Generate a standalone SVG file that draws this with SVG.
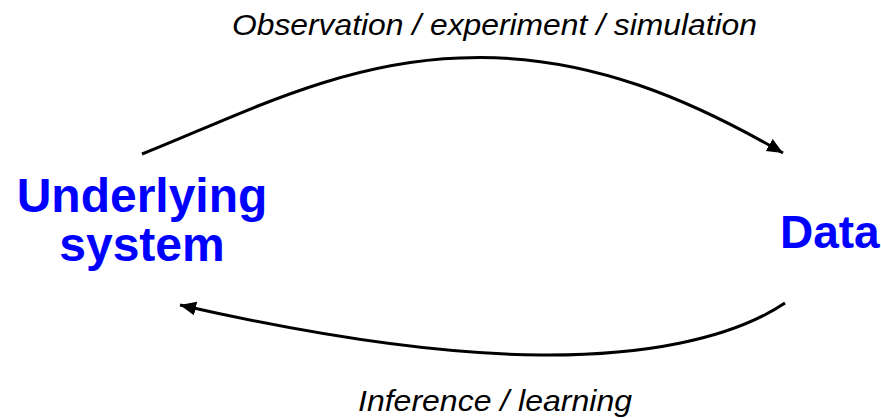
<svg xmlns="http://www.w3.org/2000/svg" width="881" height="418" viewBox="0 0 881 418">
  <style>
    .node { font-family: "Liberation Sans", Arial, sans-serif; font-weight: bold; fill: #0000FF; }
    .lbl { font-family: "Liberation Sans", Arial, sans-serif; font-style: italic; fill: #000000; font-size: 30px; }
    .conn { fill: none; stroke: #000000; stroke-width: 3; }
  </style>
  <defs>
    <marker id="arrow" markerUnits="userSpaceOnUse" markerWidth="18" markerHeight="16" refX="16" refY="7" orient="auto">
      <path d="M0,0 L16,7 L0,14 Z" fill="#000000"/>
    </marker>
  </defs>
  <rect width="881" height="418" fill="#ffffff"/>
  <g id="connectors">
    <path class="conn" d="M142,154 C 240,115 340,62 460,58 C 590,52 700,105 783,153" marker-end="url(#arrow)"/>
    <path class="conn" d="M785,303 C 730,340 640,356 540,355 C 420,354 290,330 180,305" marker-end="url(#arrow)"/>
  </g>
  <g id="node-system">
    <text class="node" font-size="48" text-anchor="middle" x="142" y="212">Underlying</text>
    <text class="node" font-size="48" text-anchor="middle" x="142" y="261">system</text>
  </g>
  <g id="node-data">
    <text class="node" font-size="46" x="780" y="248">Data</text>
  </g>
  <g id="label-top">
    <text class="lbl" x="232" y="35" textLength="525" lengthAdjust="spacingAndGlyphs">Observation / experiment / simulation</text>
  </g>
  <g id="label-bottom">
    <text class="lbl" x="358" y="411" textLength="274" lengthAdjust="spacingAndGlyphs">Inference / learning</text>
  </g>
</svg>
